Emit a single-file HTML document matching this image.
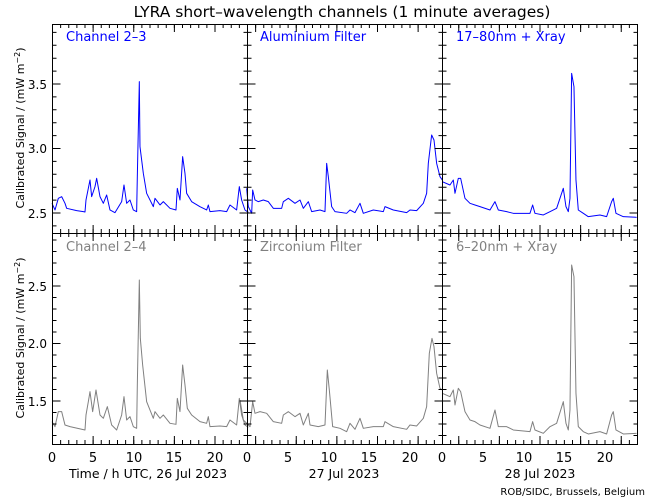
<!DOCTYPE html>
<html><head><meta charset="utf-8"><style>
html,body{margin:0;padding:0;background:#fff;}
svg{display:block;font-family:"DejaVu Sans","Liberation Sans",sans-serif;}
</style></head><body>
<svg width="650" height="500" xmlns="http://www.w3.org/2000/svg">
<rect width="650" height="500" fill="#fff"/>
<text x="342" y="17" font-size="15.5" text-anchor="middle">LYRA short–wavelength channels (1 minute averages)</text>
<g fill="none" stroke-width="1" stroke-linejoin="round">
<g stroke="#0000ff" transform="scale(0.3333)"><polyline vector-effect="non-scaling-stroke" points="156,610 165,630 175,595 185,590 195,610 200,625 230,632 250,635 255,636 258,600 265,565 270,540 275,590 285,560 290,535 300,590 310,610 320,585 330,630 345,638 365,605 372,555 380,610 390,600 400,630 410,635 412,530 418,245 420,440 430,520 440,580 460,620 465,595 480,615 490,605 510,625 528,630 532,565 540,600 548,470 555,520 560,580 575,605 600,620 620,630 625,615 630,635 660,632 680,635 690,615 710,630 718,560 725,600 735,630 745,637"/></g>
<g stroke="#808080" transform="translate(0,225) scale(0.3333)"><polyline vector-effect="non-scaling-stroke" points="156,590 165,605 175,560 185,560 195,600 210,605 255,615 258,570 265,530 270,500 278,560 288,495 300,570 310,580 322,545 335,600 350,615 365,570 372,515 380,585 390,575 400,605 410,610 412,480 418,165 421,340 428,420 440,530 460,580 465,560 480,580 490,570 510,595 528,598 532,520 540,560 548,420 555,480 562,550 575,570 600,590 620,595 625,575 630,605 660,603 680,605 690,585 710,600 718,520 725,570 735,600 745,607"/></g>
<g stroke="#0000ff" transform="translate(240,20) scale(0.3333)"><polyline vector-effect="non-scaling-stroke" points="20,505 25,560 35,580 38,510 45,540 55,545 70,540 85,545 100,565 125,565 130,545 145,535 165,550 180,540 190,565 205,545 215,575 240,570 255,575 260,430 265,470 275,560 285,575 320,580 330,570 345,578 360,550 370,580 400,570 430,575 435,560 460,570 500,578 510,570 530,572 550,550 560,520 565,430 575,345 582,360 590,430 600,470 607,480"/>
<polyline vector-effect="non-scaling-stroke" points="607,485 630,495 640,480 645,520 655,475 662,475 675,535 690,550 705,555 720,560 750,570 765,545 775,570 800,575 820,580 870,580 878,555 885,580 910,585 930,575 950,565 970,505 978,560 985,575 990,535 995,160 1002,200 1008,480 1015,570 1030,580 1045,590 1080,585 1100,590 1115,545 1120,535 1128,580 1150,590 1190,592"/></g>
<g stroke="#808080" transform="translate(240,230) scale(0.3333)"><polyline vector-effect="non-scaling-stroke" points="0,510 10,570 30,590 38,515 45,550 60,545 80,550 100,575 125,580 130,555 145,545 165,560 180,550 190,585 205,550 210,585 235,590 255,585 262,420 268,480 278,590 300,595 320,605 330,580 345,598 360,565 370,595 400,590 430,590 435,575 460,590 500,598 510,585 530,588 550,565 560,530 568,370 576,325 582,350 590,430 600,475 607,480"/>
<polyline vector-effect="non-scaling-stroke" points="607,490 630,500 640,480 645,525 655,475 662,485 675,545 690,570 705,575 720,585 750,595 765,540 775,590 800,590 820,600 870,605 878,575 885,600 910,610 930,590 950,580 970,515 978,580 985,600 990,540 995,105 1002,140 1008,490 1015,590 1030,605 1045,612 1080,605 1100,612 1115,555 1120,545 1128,600 1150,612 1190,610"/></g>
</g>
<g fill="none" stroke="#000">
<!-- x ticks minor -->
<line x1="52" y1="442" x2="640" y2="442" stroke-width="4" stroke-dasharray="1 7.125"/>
<line x1="52" y1="26" x2="640" y2="26" stroke-width="4" stroke-dasharray="1 7.125"/>
<line x1="52" y1="233" x2="640" y2="233" stroke-width="8" stroke-dasharray="1 7.125"/>
<!-- x ticks major -->
<line x1="52" y1="440" x2="640" y2="440" stroke-width="8" stroke-dasharray="1 39.625"/>
<line x1="52" y1="28" x2="640" y2="28" stroke-width="8" stroke-dasharray="1 39.625"/>
<line x1="52" y1="233" x2="640" y2="233" stroke-width="16" stroke-dasharray="1 39.625"/>
<!-- y ticks top row minor -->
<line x1="54.5" y1="226.4" x2="54.5" y2="24" stroke-width="4" stroke-dasharray="1 11.9"/>
<line x1="247.5" y1="226.4" x2="247.5" y2="24" stroke-width="8" stroke-dasharray="1 11.9"/>
<line x1="442.5" y1="226.4" x2="442.5" y2="24" stroke-width="8" stroke-dasharray="1 11.9"/>
<line x1="635.5" y1="226.4" x2="635.5" y2="24" stroke-width="4" stroke-dasharray="1 11.9"/>
<!-- y ticks top row major -->
<line x1="56.5" y1="213.5" x2="56.5" y2="24" stroke-width="8" stroke-dasharray="1 63.5"/>
<line x1="247.5" y1="213.5" x2="247.5" y2="24" stroke-width="16" stroke-dasharray="1 63.5"/>
<line x1="442.5" y1="213.5" x2="442.5" y2="24" stroke-width="16" stroke-dasharray="1 63.5"/>
<line x1="633.5" y1="213.5" x2="633.5" y2="24" stroke-width="8" stroke-dasharray="1 63.5"/>
<!-- y ticks bottom row minor -->
<line x1="54.5" y1="436" x2="54.5" y2="234" stroke-width="4" stroke-dasharray="1 10.5"/>
<line x1="247.5" y1="436" x2="247.5" y2="234" stroke-width="8" stroke-dasharray="1 10.5"/>
<line x1="442.5" y1="436" x2="442.5" y2="234" stroke-width="8" stroke-dasharray="1 10.5"/>
<line x1="635.5" y1="436" x2="635.5" y2="234" stroke-width="4" stroke-dasharray="1 10.5"/>
<!-- y ticks bottom row major -->
<line x1="56.5" y1="401.5" x2="56.5" y2="234" stroke-width="8" stroke-dasharray="1 56.5"/>
<line x1="247.5" y1="401.5" x2="247.5" y2="234" stroke-width="16" stroke-dasharray="1 56.5"/>
<line x1="442.5" y1="401.5" x2="442.5" y2="234" stroke-width="16" stroke-dasharray="1 56.5"/>
<line x1="633.5" y1="401.5" x2="633.5" y2="234" stroke-width="8" stroke-dasharray="1 56.5"/>
</g>
<rect x="0" y="445" width="650" height="10" fill="#fff"/>
<rect x="638" y="20" width="12" height="430" fill="#fff"/>
<g fill="none" stroke="#000" stroke-width="1">
<rect x="52.5" y="24.5" width="585" height="420"/>
<line x1="52" y1="233.5" x2="637" y2="233.5"/>
<line x1="247.5" y1="24" x2="247.5" y2="444"/>
<line x1="442.5" y1="24" x2="442.5" y2="444"/>
</g>
<g font-size="13" fill="#0000ff"><text x="66" y="41">Channel 2–3</text><text x="260" y="41">Aluminium Filter</text><text x="456" y="41">17–80nm + Xray</text></g>
<g font-size="13" fill="#808080"><text x="66" y="251">Channel 2–4</text><text x="260" y="251">Zirconium Filter</text><text x="456" y="251">6–20nm + Xray</text></g>
<g font-size="12" text-anchor="end"><text x="47" y="89">3.5</text><text x="47" y="153">3.0</text><text x="47" y="218">2.5</text>
<text x="47" y="291">2.5</text><text x="47" y="348">2.0</text><text x="47" y="406">1.5</text></g>
<g font-size="11" text-anchor="middle"><text transform="translate(24,128) rotate(-90)">Calibrated Signal / (mW m<tspan dy="-4" font-size="8">−2</tspan><tspan dy="4">)</tspan></text>
<text transform="translate(24,338) rotate(-90)">Calibrated Signal / (mW m<tspan dy="-4" font-size="8">−2</tspan><tspan dy="4">)</tspan></text></g>
<g font-size="13" text-anchor="middle">
<text x="52" y="462">0</text><text x="93" y="462">5</text><text x="134" y="462">10</text><text x="174" y="462">15</text><text x="215" y="462">20</text>
<text x="247" y="462">0</text><text x="288" y="462">5</text><text x="329" y="462">10</text><text x="369" y="462">15</text><text x="410" y="462">20</text>
<text x="442" y="462">0</text><text x="483" y="462">5</text><text x="524" y="462">10</text><text x="564" y="462">15</text><text x="605" y="462">20</text>
</g>
<g font-size="12.5" text-anchor="middle"><text x="148" y="478">Time / h UTC, 26 Jul 2023</text><text x="344" y="478">27 Jul 2023</text><text x="540" y="478">28 Jul 2023</text></g>
<text x="645" y="495" font-size="10" text-anchor="end">ROB/SIDC, Brussels, Belgium</text>
</svg>
</body></html>
